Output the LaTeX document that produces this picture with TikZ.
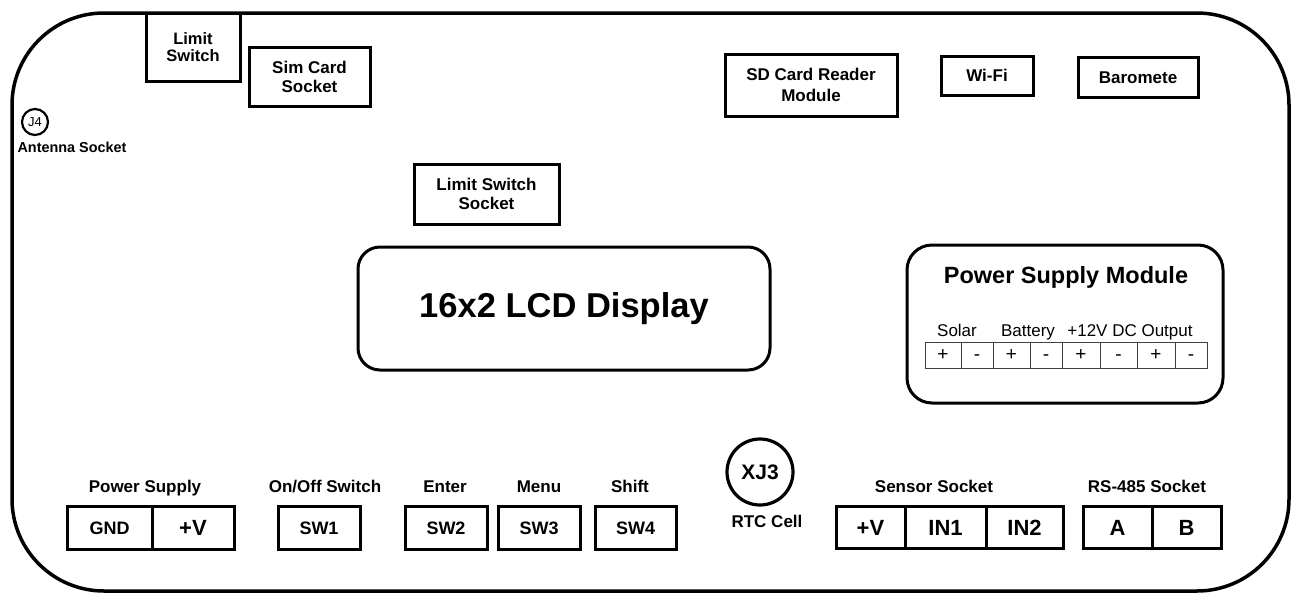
\documentclass[tikz,border=0pt]{standalone}
\usepackage{fontspec}
\setmainfont{Liberation Sans}
\begin{document}
\begin{tikzpicture}[x=1pt,y=-1pt,
  box/.style={draw, line width=3pt, inner sep=0pt, align=center,
    font=\bfseries\fontsize{17}{19}\selectfont},
  cellb/.style={draw, line width=3pt, inner sep=0pt, minimum height=43pt,
    text height=13pt, text depth=0pt,
    font=\bfseries\fontsize{18}{20}\selectfont},
  cellbig/.style={draw, line width=3pt, inner sep=0pt, minimum height=42pt,
    text height=17pt, text depth=0pt,
    font=\bfseries\fontsize{22}{24}\selectfont},
  lbl/.style={inner sep=0pt, anchor=base, font=\bfseries\fontsize{17}{19}\selectfont},
  cellt/.style={draw=black!75, line width=0.9pt, inner sep=0pt, minimum height=26pt,
    text height=11.5pt, text depth=0pt,
    font=\fontsize{19}{19}\selectfont},
  tlbl/.style={inner sep=0pt, anchor=base, font=\fontsize{17}{19}\selectfont},
  roundbox/.style={draw, line width=3pt, inner sep=0pt}
]
\useasboundingbox (0,0) rectangle (1299,595);
% outer frame
\draw[line width=3.5pt, rounded corners=92pt] (12,13) rectangle (1289,591);

% top-left
\node[box, minimum width=94pt, minimum height=68pt, font=\bfseries\fontsize{16.5}{17}\selectfont] (limsw) at (193,47) {Limit\\Switch};
\node[box, minimum width=121pt, minimum height=59pt] (sim) at (309.5,76.5) {Sim Card\\Socket};
\node[draw, circle, line width=2.2pt, minimum size=26pt, inner sep=0pt, font=\fontsize{13}{13}\selectfont] (j4) at (35,122) {J4};
\node[inner sep=0pt, font=\bfseries\fontsize{14.4}{16}\selectfont] (ant) at (72,147) {Antenna Socket};

% top-right
\node[box, minimum width=172pt, minimum height=62pt, font=\bfseries\fontsize{17}{21}\selectfont] (sd) at (811,85) {SD Card Reader\\Module};
\node[box, minimum width=92pt, minimum height=39pt, text height=12pt, text depth=0pt] (wifi) at (987,75.5) {Wi-Fi};
\node[box, minimum width=120pt, minimum height=40pt, text height=12pt, text depth=0pt] (baro) at (1138,77) {Baromete};

% middle
\node[box, minimum width=145pt, minimum height=60pt] (lss) at (486.5,194) {Limit Switch\\Socket};
\node[roundbox, rounded corners=22pt, minimum width=412pt, minimum height=123pt,
  font=\bfseries\fontsize{34.5}{36}\selectfont] (lcd) at (564,308.5) {16x2 LCD Display};

% power supply module
\node[roundbox, rounded corners=25pt, minimum width=316pt, minimum height=158pt] (psm) at (1065,324) {};
\node[inner sep=0pt, font=\bfseries\fontsize{23.5}{25}\selectfont] (psmt) at (1066,277) {Power Supply Module};
\node[tlbl] (solar) at (957,336) {Solar};
\node[tlbl] (batt) at (1028,336) {Battery};
\node[tlbl] (dcout) at (1130,336) {+12V DC Output};
\node[cellt, minimum width=36pt] (t1) at (943,355) {+};
\node[cellt, minimum width=32pt] (t2) at (977,355) {-};
\node[cellt, minimum width=37pt] (t3) at (1011.5,355) {+};
\node[cellt, minimum width=32pt] (t4) at (1046,355) {-};
\node[cellt, minimum width=38pt] (t5) at (1081,355) {+};
\node[cellt, minimum width=37pt] (t6) at (1118.5,355) {-};
\node[cellt, minimum width=38pt] (t7) at (1156,355) {+};
\node[cellt, minimum width=32pt] (t8) at (1191,355) {-};

% bottom row
\node[lbl] (pslbl) at (145,492) {Power Supply};
\node[cellb, minimum width=85pt] (gnd) at (109.5,527.5) {GND};
\node[cellb, minimum width=82pt, text height=16pt, font=\bfseries\fontsize{22}{24}\selectfont] (pv) at (193,527.5) {+V};
\node[lbl] (onofflbl) at (325,492) {On/Off Switch};
\node[cellb, minimum width=82pt] (sw1) at (319,527.5) {SW1};
\node[lbl] (enterlbl) at (445,492) {Enter};
\node[cellb, minimum width=82pt] (sw2) at (446,527.5) {SW2};
\node[lbl] (menulbl) at (539,492) {Menu};
\node[cellb, minimum width=82pt] (sw3) at (539,527.5) {SW3};
\node[lbl] (shiftlbl) at (630,492) {Shift};
\node[cellb, minimum width=81pt] (sw4) at (635.5,527.5) {SW4};

\node[draw, circle, line width=3.2pt, minimum size=66pt, inner sep=0pt,
  font=\bfseries\fontsize{21}{21}\selectfont] (xj3) at (760,472) {XJ3};
\node[lbl] (rtc) at (767,527) {RTC Cell};

\node[lbl] (senslbl) at (934,492) {Sensor Socket};
\node[cellbig, minimum width=69pt] (spv) at (870.5,527) {+V};
\node[cellbig, minimum width=81pt] (in1) at (945.5,527) {IN1};
\node[cellbig, minimum width=77pt] (in2) at (1024.5,527) {IN2};

\node[lbl] (rslbl) at (1147,492) {RS-485 Socket};
\node[cellbig, minimum width=69pt] (ra) at (1117.5,527) {A};
\node[cellbig, minimum width=69pt] (rb) at (1186.5,527) {B};
\end{tikzpicture}
\end{document}
